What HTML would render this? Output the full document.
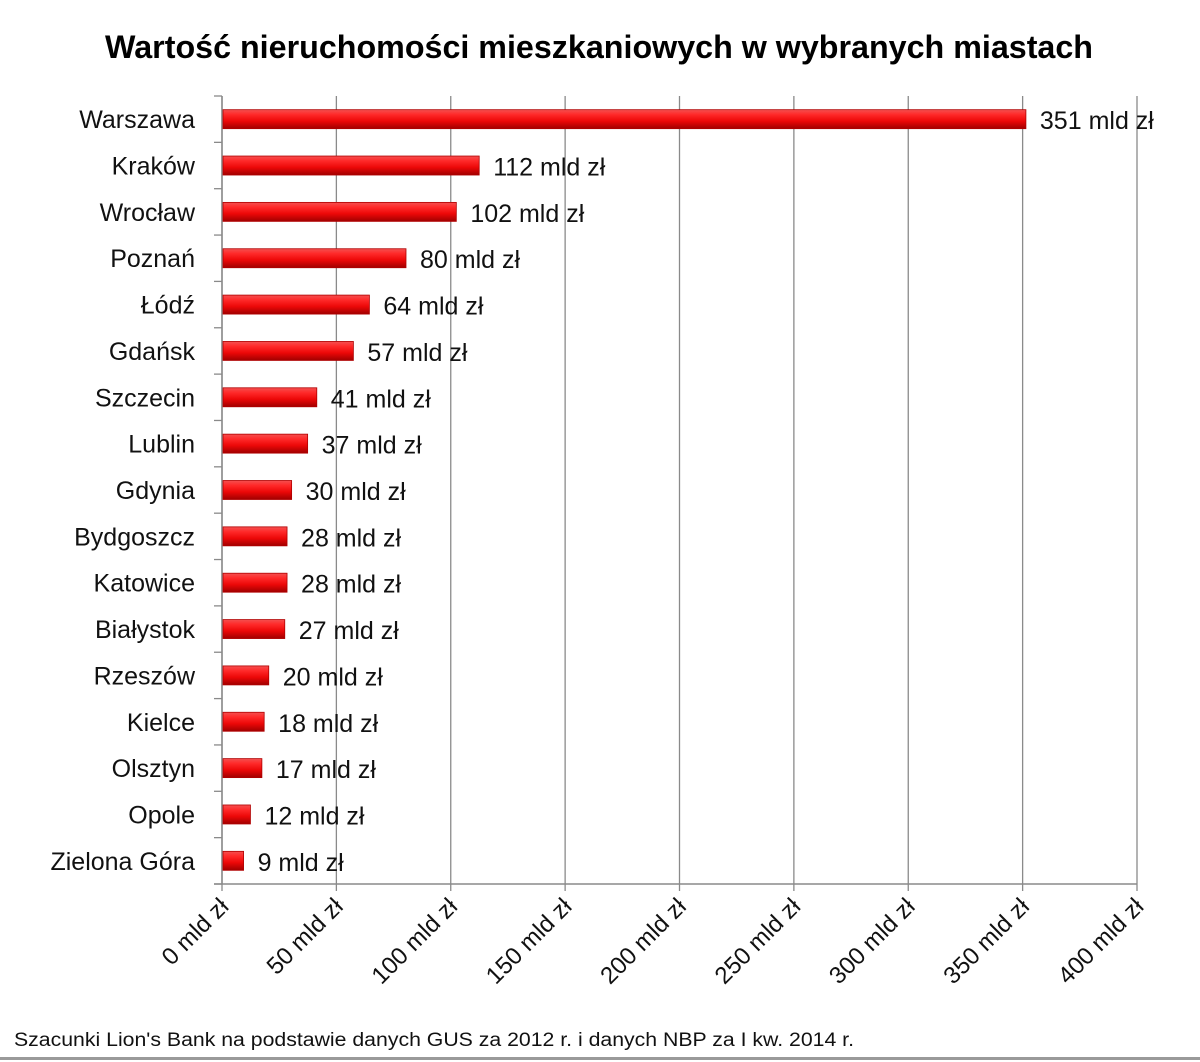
<!DOCTYPE html>
<html><head><meta charset="utf-8">
<style>
html,body{margin:0;padding:0;background:#fff;}
svg{display:block;font-family:"Liberation Sans",sans-serif;}
</style></head>
<body>
<svg id="chart" width="1200" height="1062" viewBox="0 0 1200 1062" xmlns="http://www.w3.org/2000/svg">
<defs>
<linearGradient id="barGrad" x1="0" y1="0" x2="0" y2="1">
<stop offset="0" stop-color="#f45050"/>
<stop offset="0.25" stop-color="#ff2a2a"/>
<stop offset="0.6" stop-color="#ec0808"/>
<stop offset="1" stop-color="#a00000"/>
</linearGradient>
</defs>
<text x="105" y="58" font-size="32" font-weight="bold" fill="#000" textLength="988" lengthAdjust="spacingAndGlyphs">Wartość nieruchomości mieszkaniowych w wybranych miastach</text>
<g id="grid"></g>
<g id="bars"></g>
<g id="labels"></g>
<text x="14" y="1046" font-size="19" fill="#111" textLength="840" lengthAdjust="spacingAndGlyphs">Szacunki Lion's Bank na podstawie danych GUS za 2012 r. i danych NBP za I kw. 2014 r.</text>
<rect x="0" y="1057" width="1200" height="3" fill="#9a9a9a"/>
</svg>
<script>
const categories = ["Warszawa","Kraków","Wrocław","Poznań","Łódź","Gdańsk","Szczecin","Lublin","Gdynia","Bydgoszcz","Katowice","Białystok","Rzeszów","Kielce","Olsztyn","Opole","Zielona Góra"];
const values = [351,112,102,80,64,57,41,37,30,28,28,27,20,18,17,12,9];
const valueLabels = ["351 mld zł","112 mld zł","102 mld zł","80 mld zł","64 mld zł","57 mld zł","41 mld zł","37 mld zł","30 mld zł","28 mld zł","28 mld zł","27 mld zł","20 mld zł","18 mld zł","17 mld zł","12 mld zł","9 mld zł"];
const tickValues = [0,50,100,150,200,250,300,350,400];
const tickLabels = ["0 mld zł","50 mld zł","100 mld zł","150 mld zł","200 mld zł","250 mld zł","300 mld zł","350 mld zł","400 mld zł"];

const NS = "http://www.w3.org/2000/svg";
const X0 = 222, X1 = 1137, Y0 = 96, Y1 = 884;
const xMax = 400;
function x(v){ return X0 + v/xMax*(X1-X0); }
const band = (Y1-Y0)/categories.length;
function yc(i){ return Y0 + band*(i+0.5); }
function mk(tag, attrs, parent){ const e=document.createElementNS(NS,tag); for(const k in attrs) e.setAttribute(k,attrs[k]); parent.appendChild(e); return e; }

const grid = document.getElementById('grid');
const bars = document.getElementById('bars');
const labels = document.getElementById('labels');

tickValues.forEach((t,i)=>{
  const gx = x(t);
  const gl = mk('line',{x1:gx,y1:Y0,x2:gx,y2:Y1+7,stroke:'#8a8a8a','stroke-width':1.3},grid);
  
  
  const tl = mk('text',{x:0,y:0,'font-size':24,'text-anchor':'end',fill:'#111',transform:`translate(${gx+8},${Y1+24}) rotate(-45)`},labels);
  
  
  tl.textContent = tickLabels[i];
});
const ax = mk('line',{x1:X0-8,y1:Y1,x2:X1,y2:Y1,stroke:'#8a8a8a','stroke-width':1.5},grid);


const ay = mk('line',{x1:X0,y1:Y0,x2:X0,y2:Y1,stroke:'#8a8a8a','stroke-width':1.5},grid);


for(let i=0;i<=categories.length;i++){
  const ty = Y0 + band*i;
  const tk = mk('line',{x1:X0-8,y1:ty,x2:X0,y2:ty,stroke:'#8a8a8a','stroke-width':1.3},grid);
  
  
}

categories.forEach((c,i)=>{
  const cy = yc(i);
  const bw = x(values[i]) - X0;
  const b = mk('rect',{x:X0+1,y:cy-9.5,width:bw,height:19,fill:'url(#barGrad)',stroke:'#b00000','stroke-width':0.8},bars);
  
  
  const cl = mk('text',{x:195,y:cy+9,'font-size':25,'text-anchor':'end',fill:'#111'},labels);
  
  
  cl.textContent = c;
  const vl = mk('text',{x:x(values[i])+15,y:cy+10,'font-size':25,fill:'#111'},labels);
  
  
  vl.textContent = valueLabels[i];
});
</script>
</body></html>
